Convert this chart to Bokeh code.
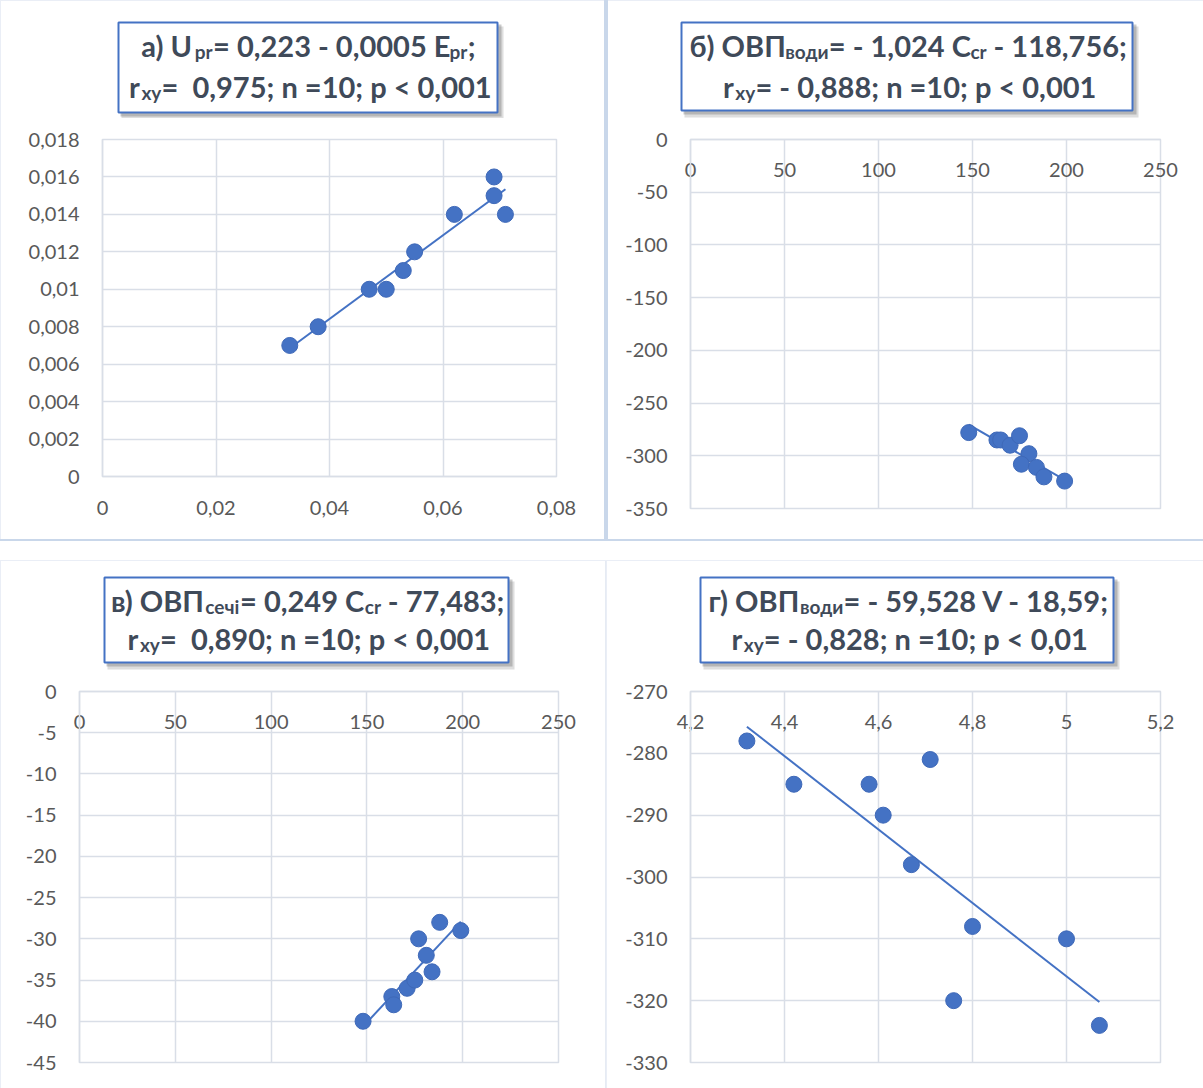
import numpy as np
from bokeh.plotting import figure
from bokeh.models import FixedTicker, Range1d, Spacer
from bokeh.layouts import column, row
from bokeh.core.properties import value
from bokeh.embed import file_html
from bokeh.resources import INLINE

# ---------------- data ----------------
a_x = [0.033, 0.038, 0.047, 0.050, 0.053, 0.055, 0.062, 0.069, 0.069, 0.071]
a_y = [0.007, 0.008, 0.010, 0.010, 0.011, 0.012, 0.014, 0.016, 0.015, 0.014]

b_x = [148, 163, 165, 170, 175, 180, 176, 184, 188, 199]
b_y = [-278, -285, -285, -290, -281, -298, -308, -311, -320, -324]

c_x = [148, 163, 164, 171, 175, 177, 181, 184, 188, 199]
c_y = [-40, -37, -38, -36, -35, -30, -32, -34, -28, -29]

d_x = [4.32, 4.42, 4.58, 4.61, 4.67, 4.71, 4.76, 4.80, 5.00, 5.07]
d_y = [-278, -285, -285, -290, -298, -281, -320, -308, -310, -324]

a_xticks = [0, 0.02, 0.04, 0.06, 0.08]
a_xlabels = ["0", "0,02", "0,04", "0,06", "0,08"]
a_yticks = [0, 0.002, 0.004, 0.006, 0.008, 0.01, 0.012, 0.014, 0.016, 0.018]
a_ylabels = ["0", "0,002", "0,004", "0,006", "0,008", "0,01", "0,012", "0,014", "0,016", "0,018"]

b_xticks = [0, 50, 100, 150, 200, 250]
b_xlabels = ["0", "50", "100", "150", "200", "250"]
b_yticks = [0, -50, -100, -150, -200, -250, -300, -350]
b_ylabels = ["0", "-50", "-100", "-150", "-200", "-250", "-300", "-350"]

c_xticks = [0, 50, 100, 150, 200, 250]
c_xlabels = ["0", "50", "100", "150", "200", "250"]
c_yticks = [0, -5, -10, -15, -20, -25, -30, -35, -40, -45]
c_ylabels = ["0", "-5", "-10", "-15", "-20", "-25", "-30", "-35", "-40", "-45"]

d_xticks = [4.2, 4.4, 4.6, 4.8, 5.0, 5.2]
d_xlabels = ["4,2", "4,4", "4,6", "4,8", "5", "5,2"]
d_yticks = [-270, -280, -290, -300, -310, -320, -330]
d_ylabels = ["-270", "-280", "-290", "-300", "-310", "-320", "-330"]

title_a = [[("а) U", 0), ("pr", 1), ("= 0,223 - 0,0005 E", 0), ("pr", 1), (";", 0)],
           [("r", 0), ("xy", 1), ("=  0,975; n =10; p < 0,001", 0)]]
title_b = [[("б) ОВП", 0), ("води", 1), ("= - 1,024 C", 0), ("cr", 1), (" - 118,756;", 0)],
           [("r", 0), ("xy", 1), ("= - 0,888; n =10; p < 0,001", 0)]]
title_c = [[("в) ОВП", 0), ("сечі", 1), ("= 0,249 C", 0), ("cr", 1), (" - 77,483;", 0)],
           [("r", 0), ("xy", 1), ("=  0,890; n =10; p < 0,001", 0)]]
title_d = [[("г) ОВП", 0), ("води", 1), ("= - 59,528 V - 18,59;", 0)],
           [("r", 0), ("xy", 1), ("= - 0,828; n =10; p < 0,01", 0)]]

# ---------------- style ----------------
FONT = "Lato"
GRID = "#d9dee7"
BLUE = "#4472C4"
TICK_COL = "#595959"
TITLE_COL = "#3f4a59"
T_SIZE = 29
S_SIZE = 19
TITLE_H = 118

CW = {' ': 0.23, '\u00a0': 0.23, ',': 0.22, ';': 0.24, '.': 0.22, '-': 0.35, '=': 0.58, '<': 0.58,
      ')': 0.32, 'О': 0.78, 'В': 0.65, 'П': 0.72, 'C': 0.69, 'E': 0.61, 'U': 0.74,
      'V': 0.70, 'а': 0.52, 'б': 0.57, 'в': 0.52, 'г': 0.42, 'о': 0.57, 'д': 0.59,
      'и': 0.61, 'с': 0.47, 'е': 0.54, 'ч': 0.56, 'і': 0.26, 'r': 0.39, 'x': 0.53,
      'y': 0.53, 'p': 0.57, 'n': 0.58, 'c': 0.47}
for dgt in "0123456789":
    CW[dgt] = 0.58


def w_of(s, size):
    return sum(CW.get(ch, 0.56) for ch in s) * size


def title_fig(width, box, lines, baselines, plot_borders):
    base_kw = dict(width=width, height=TITLE_H, y_range=Range1d(TITLE_H, 0),
                   output_backend="svg", toolbar_location=None,
                   x_axis_location=None, y_axis_location=None)
    try:
        t = figure(frame_align=False, min_border=0, x_range=Range1d(0, width), **base_kw)
    except Exception:
        lb, rb = plot_borders
        t = figure(min_border_left=lb, min_border_right=rb, min_border_top=0, min_border_bottom=0,
                   x_range=Range1d(lb, width - rb), **base_kw)
    t.grid.visible = False
    t.outline_line_color = None
    t.background_fill_color = None
    t.border_fill_color = None
    l, r, tp, b = box
    t.quad(left=[l + 3], right=[r + 6], top=[tp + 4], bottom=[b + 7],
           fill_color="#7a7a7a", fill_alpha=0.25, line_color=None)
    t.quad(left=[l + 2], right=[r + 4], top=[tp + 2], bottom=[b + 4],
           fill_color="#6a6a6a", fill_alpha=0.35, line_color=None)
    t.quad(left=[l], right=[r], top=[tp], bottom=[b],
           fill_color="white", line_color=BLUE, line_width=2)
    cx = (l + r) / 2
    mx, my, mt, sx, sy, st = [], [], [], [], [], []
    for pieces, base in zip(lines, baselines):
        total = sum(w_of(s, S_SIZE if sub else T_SIZE) for s, sub in pieces) + sum(1 for _, sub in pieces if sub)
        x = cx - total / 2
        for s, sub in pieces:
            size = S_SIZE if sub else T_SIZE
            lead = len(s) - len(s.lstrip(" "))
            x += w_of(" " * lead, size)
            s2 = s.lstrip(" ").replace("  ", "\u00a0 ")
            if sub:
                x += 1
                sx.append(x); sy.append(base + 6); st.append(s2)
                x += w_of(s2, S_SIZE)
            else:
                mx.append(x); my.append(base); mt.append(s2)
                x += w_of(s2, T_SIZE)
    common = dict(text_font=value(FONT), text_font_style="bold", text_color=TITLE_COL,
                  text_align="left", text_baseline="alphabetic")
    t.text(x=mx, y=my, text=mt, text_font_size=value(f"{T_SIZE}px"), **common)
    t.text(x=sx, y=sy, text=st, text_font_size=value(f"{S_SIZE}px"), **common)
    return t


def make_fig(w, h, xr, yr, borders, x_above, xt, xl, yt, yl, xs, ys):
    lb, rb, tb, bb = borders
    kw = dict(width=w, height=h, x_range=Range1d(*xr), y_range=Range1d(*yr),
              output_backend="svg", toolbar_location=None,
              x_axis_location="above" if x_above else "below",
              min_border_left=lb, min_border_right=rb, min_border_top=tb, min_border_bottom=bb)
    try:
        p = figure(frame_align=False, **kw)
    except Exception:
        p = figure(**kw)
    p.background_fill_color = "white"
    p.border_fill_color = None
    p.outline_line_color = GRID
    p.outline_line_width = 1.5
    xtk = FixedTicker(ticks=xt)
    ytk = FixedTicker(ticks=yt)
    p.xaxis.ticker = xtk
    p.yaxis.ticker = ytk
    p.xgrid.ticker = xtk
    p.ygrid.ticker = ytk
    p.xaxis.major_label_overrides = dict(zip(xt, xl))
    p.yaxis.major_label_overrides = dict(zip(yt, yl))
    for g in (p.xgrid, p.ygrid):
        g.grid_line_color = GRID
        g.grid_line_width = 1.5
    for ax in p.axis:
        ax.major_tick_line_color = None
        ax.minor_tick_line_color = None
        ax.axis_line_color = GRID
        ax.axis_line_width = 1.5
        ax.major_label_text_font = FONT
        ax.major_label_text_font_size = "20px"
        ax.major_label_text_color = TICK_COL
    p.yaxis.major_label_standoff = 17
    p.xaxis.major_label_standoff = -43 if x_above else 18

    k, c0 = np.polyfit(xs, ys, 1)
    tx = np.array([min(xs), max(xs)])
    p.line(tx, k * tx + c0, line_color=BLUE, line_width=2)
    p.scatter(xs, ys, size=16, fill_color=BLUE, line_color="#3f69b8", line_width=1)
    return p


# top-left panel: page x 0..606, y 0..541
t1 = title_fig(606, (118, 497, 22, 112), title_a, (45, 86), (102, 50))
p1 = make_fig(606, 423, (0, 0.08), (0, 0.018), (102, 50, 21, 65), False,
              a_xticks, a_xlabels, a_yticks, a_ylabels, a_x, a_y)
# top-right panel: page x 606..1203
t2 = title_fig(597, (75, 526, 22, 110), title_b, (45, 86), (84, 43))
p2 = make_fig(597, 423, (0, 250), (-350, 0), (84, 43, 21, 33), True,
              b_xticks, b_xlabels, b_yticks, b_ylabels, b_x, b_y)
# bottom-left panel: page y 560..1088
t3 = title_fig(606, (104, 508, 17, 102), title_c, (40, 78), (79, 48))
p3 = make_fig(606, 410, (0, 250), (-45, 0), (79, 48, 13, 26), True,
              c_xticks, c_xlabels, c_yticks, c_ylabels, c_x, c_y)
# bottom-right panel
t4 = title_fig(597, (94, 507, 17, 102), title_d, (40, 78), (84, 43))
p4 = make_fig(597, 410, (4.2, 5.2), (-330, -270), (84, 43, 13, 26), True,
              d_xticks, d_xlabels, d_yticks, d_ylabels, d_x, d_y)

tl = column(t1, p1, styles={"box-shadow": "inset -2px -2px 0 0 #c9d7ea, inset 1px 1px 0 0 #eaeef6"})
tr = column(t2, p2, styles={"box-shadow": "inset 2px -2px 0 0 #c9d7ea, inset 0 1px 0 0 #eaeef6"})
bl = column(t3, p3, styles={"box-shadow": "inset 1px 1px 0 0 #eaeef6, inset -1px 0 0 0 #e6ebf3"})
br = column(t4, p4, styles={"box-shadow": "inset 1px 1px 0 0 #eaeef6"})

layout = column(row(tl, tr), Spacer(width=1203, height=19), row(bl, br))
open("out.html", "w").write(file_html(layout, INLINE))
